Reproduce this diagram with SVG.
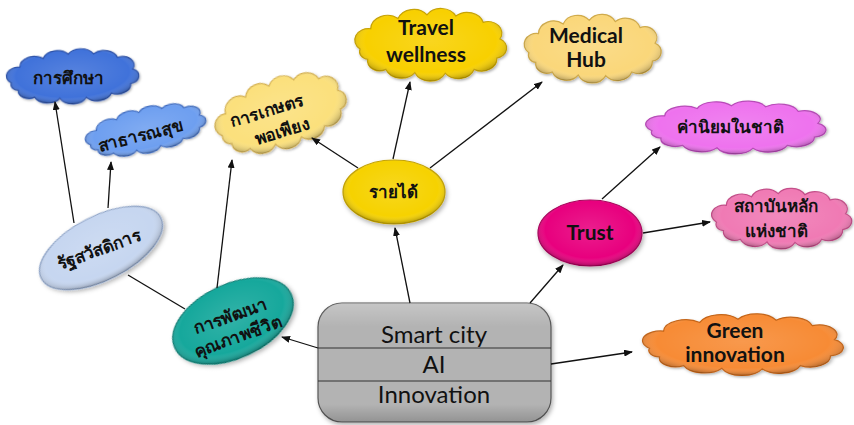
<svg xmlns="http://www.w3.org/2000/svg" xmlns:xlink="http://www.w3.org/1999/xlink" width="854" height="425" viewBox="0 0 854 425">
<style>
.lbl{font-family:"Lato","Liberation Sans","Noto Sans",sans-serif;font-weight:bold;font-size:21px;fill:#111;text-anchor:middle}
.th{font-family:"Liberation Sans","Noto Sans",sans-serif;font-weight:bold;font-size:17px;fill:#111;text-anchor:middle}
.box{font-family:"Lato","Liberation Sans",sans-serif;font-size:24px;fill:#111;text-anchor:middle}
.con{stroke:#111;stroke-width:1.3;fill:none}
.arr{marker-end:url(#ah)}
.shape{filter:url(#sh)}
</style>
<defs>
<marker id="ah" markerWidth="9" markerHeight="7" refX="8" refY="3.5" orient="auto" markerUnits="userSpaceOnUse">
<path d="M0,0 L9,3.5 L0,7 z" fill="#111"/>
</marker>
<filter id="sh" x="-20%" y="-20%" width="140%" height="150%">
<feDropShadow dx="1.5" dy="2.5" stdDeviation="2" flood-color="#000" flood-opacity="0.3"/>
</filter>
<radialGradient id="rim" cx="0.5" cy="0.45" r="0.55">
<stop offset="0" stop-color="#fff" stop-opacity="0.12"/>
<stop offset="0.78" stop-color="#fff" stop-opacity="0"/>
<stop offset="1" stop-color="#000" stop-opacity="0.28"/>
</radialGradient>
<linearGradient id="gloss" x1="0" y1="0" x2="0" y2="1">
<stop offset="0" stop-color="#fff" stop-opacity="0.25"/>
<stop offset="0.2" stop-color="#fff" stop-opacity="0"/>
<stop offset="0.85" stop-color="#000" stop-opacity="0"/>
<stop offset="1" stop-color="#000" stop-opacity="0.18"/>
</linearGradient>
<path id="cloud" vector-effect="non-scaling-stroke" d="M -92 8 A 18 18 0 0 1 -78 -24 A 22 22 0 0 1 -42 -40 A 22 22 0 0 1 -4 -46 A 22 22 0 0 1 34 -44 A 22 22 0 0 1 70 -34 A 18 18 0 0 1 92 -8 A 16 16 0 0 1 88 22 A 20 20 0 0 1 58 40 A 22 22 0 0 1 20 46 A 22 22 0 0 1 -20 45 A 22 22 0 0 1 -58 40 A 16 16 0 0 1 -82 24 A 12 12 0 0 1 -92 8 Z"/>
</defs>
<rect width="854" height="425" fill="#fff"/>

<g id="n-education">
<g transform="translate(72,76) rotate(-3) scale(0.662,0.478)">
<use xlink:href="#cloud" class="shape" fill="#3f72da" stroke="#2a50a8" stroke-width="1.2"/>
<use xlink:href="#cloud" fill="url(#rim)"/>
</g>
<text class="th" x="68" y="84">การศึกษา</text>
</g>

<g id="n-health">
<g transform="translate(145,130) rotate(-12) scale(0.61,0.4)">
<use xlink:href="#cloud" class="shape" fill="#6e9ff0" stroke="#3f6cc0" stroke-width="1.2"/>
<use xlink:href="#cloud" fill="url(#rim)"/>
</g>
<text class="th" transform="translate(142,141) rotate(-14)">สาธารณสุข</text>
</g>

<g id="n-welfare">
<g transform="translate(101,248) rotate(-27)">
<ellipse class="shape" rx="67" ry="32" fill="#c6d6f0" stroke="#8ea4c8" stroke-width="1.2"/>
<ellipse rx="67" ry="32" fill="url(#rim)"/>
</g>
<text class="th" transform="translate(101,255) rotate(-20)">รัฐสวัสดิการ</text>
</g>

<g id="n-quality">
<g transform="translate(233,321) rotate(-25)">
<ellipse class="shape" rx="64" ry="37" fill="#12a89c" stroke="#0a7a70" stroke-width="1.2"/>
<ellipse rx="64" ry="37" fill="url(#rim)"/>
</g>
<g transform="translate(234,326) rotate(-20)">
<text class="th" x="0" y="-5">การพัฒนา</text>
<text class="th" x="0" y="17">คุณภาพชีวิต</text>
</g>
</g>

<g id="n-agri">
<g transform="translate(280,113) rotate(-17) scale(0.67,0.63)">
<use xlink:href="#cloud" class="shape" fill="#fbe07c" stroke="#d4b050" stroke-width="1.2"/>
<use xlink:href="#cloud" fill="url(#rim)"/>
</g>
<g transform="translate(274,120) rotate(-17)">
<text class="th" x="-4" y="-5">การเกษตร</text>
<text class="th" x="4" y="19">พอเพียง</text>
</g>
</g>

<g id="n-income">
<ellipse class="shape" cx="394" cy="192" rx="51" ry="32" fill="#f6d200" stroke="#c4a200" stroke-width="1.2"/>
<ellipse cx="394" cy="192" rx="51" ry="32" fill="url(#rim)"/>
<text class="th" x="393" y="198">รายได้</text>
</g>

<g id="n-travel">
<g transform="translate(430,44) scale(0.76,0.635)">
<use xlink:href="#cloud" class="shape" fill="#f8d000" stroke="#c8a200" stroke-width="1.2"/>
<use xlink:href="#cloud" fill="url(#rim)"/>
</g>
<text class="lbl" x="426" y="35">Travel</text>
<text class="lbl" x="426" y="62">wellness</text>
</g>

<g id="n-medical">
<g transform="translate(592,48) scale(0.686,0.6)">
<use xlink:href="#cloud" class="shape" fill="#fad77a" stroke="#d0aa48" stroke-width="1.2"/>
<use xlink:href="#cloud" fill="url(#rim)"/>
</g>
<text class="lbl" x="586" y="43">Medical</text>
<text class="lbl" x="586" y="67">Hub</text>
</g>

<g id="n-values">
<g transform="translate(735,127) scale(0.902,0.461)">
<use xlink:href="#cloud" class="shape" fill="#ee72ee" stroke="#b848b8" stroke-width="1.2"/>
<use xlink:href="#cloud" fill="url(#rim)"/>
</g>
<text class="th" x="730" y="133">ค่านิยมในชาติ</text>
</g>

<g id="n-trust">
<ellipse class="shape" cx="590" cy="233" rx="52" ry="33" fill="#e8007e" stroke="#a8005a" stroke-width="1.2"/>
<ellipse cx="590" cy="233" rx="52" ry="33" fill="url(#rim)"/>
<text class="lbl" x="590" y="240">Trust</text>
</g>

<g id="n-institution">
<g transform="translate(781,218) scale(0.701,0.53)">
<use xlink:href="#cloud" class="shape" fill="#f07ab4" stroke="#c44c88" stroke-width="1.2"/>
<use xlink:href="#cloud" fill="url(#rim)"/>
</g>
<text class="th" x="776" y="212">สถาบันหลัก</text>
<text class="th" x="776" y="237">แห่งชาติ</text>
</g>

<g id="n-green">
<g transform="translate(742,344) scale(1.005,0.539)">
<use xlink:href="#cloud" class="shape" fill="#f78b34" stroke="#c46418" stroke-width="1.2"/>
<use xlink:href="#cloud" fill="url(#rim)"/>
</g>
<text class="lbl" x="735" y="338">Green</text>
<text class="lbl" x="735" y="362">innovation</text>
</g>

<g id="n-center">
<rect class="shape" x="318" y="303" width="233" height="119" rx="24" ry="24" fill="#b3b3b3" stroke="#555" stroke-width="1.2"/>
<rect x="318" y="303" width="233" height="119" rx="24" ry="24" fill="url(#gloss)"/>
<line x1="318" y1="348" x2="551" y2="348" stroke="#333" stroke-width="1.2"/>
<line x1="318" y1="381" x2="551" y2="381" stroke="#333" stroke-width="1.2"/>
<text class="box" x="434" y="343">Smart city</text>
<text class="box" x="434" y="373">AI</text>
<text class="box" x="434" y="403">Innovation</text>
</g>

<g id="connectors">
<line class="con arr" x1="74" y1="223" x2="55" y2="102"/>
<line class="con arr" x1="108" y1="208" x2="111" y2="162"/>
<line class="con" x1="128" y1="275" x2="185" y2="309"/>
<line class="con arr" x1="217" y1="288" x2="232" y2="160"/>
<line class="con arr" x1="318" y1="348" x2="282" y2="337"/>
<line class="con arr" x1="410" y1="303" x2="395" y2="228"/>
<line class="con arr" x1="358" y1="168" x2="312" y2="138"/>
<line class="con arr" x1="393" y1="159" x2="410" y2="82"/>
<line class="con arr" x1="430" y1="168" x2="542" y2="82"/>
<line class="con arr" x1="530" y1="303" x2="563" y2="265"/>
<line class="con arr" x1="602" y1="199" x2="660" y2="147"/>
<line class="con arr" x1="643" y1="233" x2="710" y2="222"/>
<line class="con arr" x1="551" y1="364" x2="632" y2="352"/>
</g>
</svg>
